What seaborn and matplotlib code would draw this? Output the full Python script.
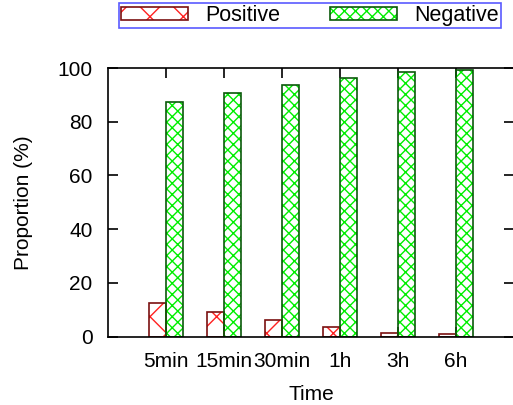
import pandas as pd
import matplotlib
matplotlib.use('Agg')
import matplotlib.pyplot as plt
import seaborn as sns
from matplotlib.patches import Patch
from matplotlib.legend_handler import HandlerTuple

sns.set_style('ticks')
plt.rcParams['font.family'] = ['Liberation Sans', 'DejaVu Sans']
plt.rcParams['hatch.linewidth'] = 1.0
plt.rcParams['text.color'] = 'black'
plt.rcParams['axes.labelcolor'] = 'black'

# Data
time_labels = ['5min', '15min', '30min', '1h', '3h', '6h']
positive = [12.5, 9.2, 6.3, 3.6, 1.4, 0.9]
negative = [87.5, 90.8, 93.7, 96.4, 98.6, 99.1]
series_names = ['Positive', 'Negative']

df = pd.DataFrame({'Time': time_labels, 'Positive': positive, 'Negative': negative})
df = df.melt(id_vars='Time', value_vars=series_names, var_name='Class', value_name='Proportion')

hatch_colors = {'Positive': '#ff2020', 'Negative': '#00ee00'}
edge_colors = {'Positive': '#7a1010', 'Negative': '#0a5a0a'}
hatches = {'Positive': 'x', 'Negative': 'xxx'}

fig = plt.figure(figsize=(5.13, 4.05), dpi=100)
ax = fig.add_axes([108 / 513, 1 - 336.5 / 405, 406 / 513, (336.5 - 68) / 405])

# hatched fill layer
sns.barplot(data=df, x='Time', y='Proportion', hue='Class', order=time_labels,
            hue_order=series_names, palette=hatch_colors, fill=False, width=0.6,
            linewidth=0, legend=False, errorbar=None, ax=ax)
for cont, name in zip(ax.containers, series_names):
    for bar in cont:
        bar.set_hatch(hatches[name])
        bar.set_edgecolor(hatch_colors[name])
        bar.set_linewidth(0)

# outline layer
sns.barplot(data=df, x='Time', y='Proportion', hue='Class', order=time_labels,
            hue_order=series_names, palette=edge_colors, fill=False, width=0.6,
            linewidth=1.2, legend=False, errorbar=None, ax=ax)

ax.set_xlim(-1, 6)
ax.set_ylim(0, 100)
ax.set_yticks([0, 20, 40, 60, 80, 100])
ax.tick_params(direction='in', top=True, right=True, length=7, width=1.2,
               labelsize=15, colors='black')
ax.tick_params(axis='x', pad=11)
ax.tick_params(axis='y', pad=11)
for s in ax.spines.values():
    s.set_visible(True)
    s.set_linewidth(1.2)
    s.set_color('black')

ax.set_xlabel('Time', fontsize=15, labelpad=10)
ax.set_ylabel('Proportion (%)', fontsize=15, labelpad=18)

# legend
handles = []
for name in series_names:
    fill_patch = Patch(facecolor='white', edgecolor=hatch_colors[name], hatch=hatches[name], linewidth=0)
    outline = Patch(facecolor='none', edgecolor=edge_colors[name], linewidth=1.2)
    handles.append((fill_patch, outline))
leg = fig.legend(handles, series_names, ncol=2, loc='center',
                 bbox_to_anchor=(310 / 513, 1 - 15.7 / 405),
                 handler_map={tuple: HandlerTuple(ndivide=1, pad=0)},
                 fontsize=15.5, handlelength=3.1, handleheight=0.55,
                 handletextpad=0.8, columnspacing=2.3, borderpad=0.1,
                 fancybox=False, frameon=True)
leg.get_frame().set_edgecolor('#3030ff')
leg.get_frame().set_linewidth(1.2)

fig.savefig('out.png', dpi=100)
